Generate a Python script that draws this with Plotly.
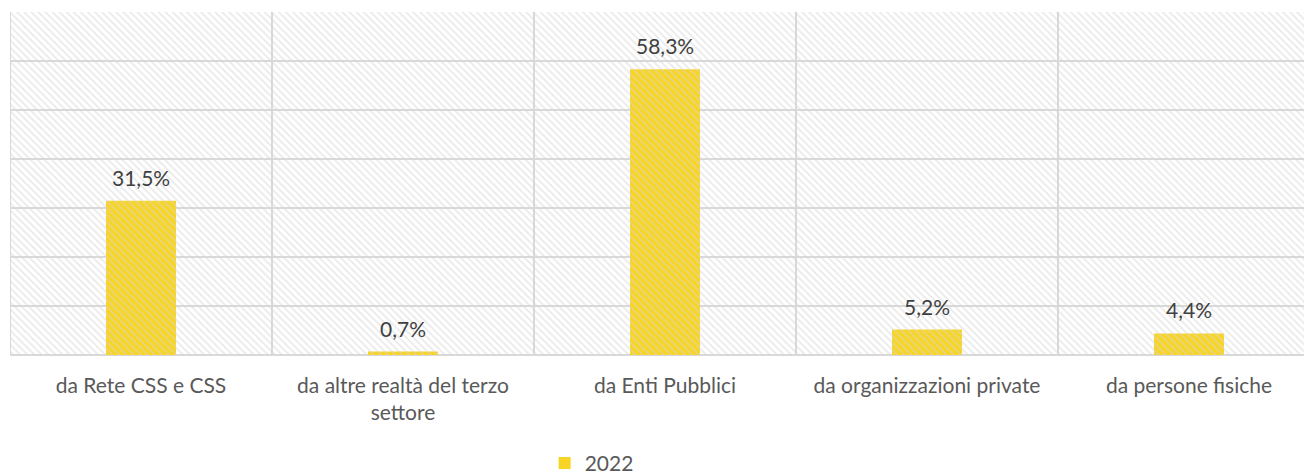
import plotly.graph_objects as go

# categories and values (percent)
categories = ["da Rete CSS e CSS", "da altre realtà del terzo<br>settore", "da Enti Pubblici",
              "da organizzazioni private", "da persone fisiche"]
values_2022 = [31.5, 0.7, 58.3, 5.2, 4.4]
labels_2022 = ["31,5%", "0,7%", "58,3%", "5,2%", "4,4%"]
series_name = "2022"

y_max = 70
font_family = "Lato, 'Open Sans', sans-serif"

fig = go.Figure()

# hatched background of the plot area
fig.add_trace(go.Bar(
    x=[0.5], y=[y_max], width=[1], xaxis="x2",
    marker=dict(color="rgba(0,0,0,0)", line=dict(width=0),
                pattern=dict(shape="\\", fgcolor="#d6d6d6", bgcolor="rgba(0,0,0,0)",
                             size=5, solidity=0.35)),
    showlegend=False, hoverinfo="skip",
))

fig.add_trace(go.Bar(
    x=list(range(len(categories))), y=values_2022, name=series_name,
    width=0.267, marker=dict(color="#F8D423", line=dict(width=0)),
))

# value labels above bars
for i, (v, t) in enumerate(zip(values_2022, labels_2022)):
    fig.add_annotation(x=i, y=v, text=t, showarrow=False, yanchor="bottom", yshift=9,
                       font=dict(size=21, color="#404040", family=font_family))

# vertical separators between categories
for i in range(len(categories)):
    fig.add_shape(type="line", x0=i - 0.5, x1=i - 0.5, y0=0, y1=1, xref="x", yref="paper",
                  line=dict(color="#d9d9d9", width=2), layer="below")

fig.update_layout(
    width=1312, height=476,
    margin=dict(l=2, r=0, t=4, b=127),
    paper_bgcolor="white", plot_bgcolor="white",
    barmode="overlay",
    font=dict(family=font_family, size=21, color="#595959"),
    xaxis=dict(range=[-0.5, 4.5], tickvals=list(range(len(categories))),
               ticktext=categories, showgrid=False, zeroline=False, ticks="",
               ticklabelstandoff=16, tickfont=dict(size=21, color="#595959")),
    xaxis2=dict(range=[0, 1], overlaying="x", visible=False),
    yaxis=dict(range=[0, y_max], dtick=10, showticklabels=False, showgrid=True,
               gridcolor="#d9d9d9", gridwidth=2, zeroline=True, zerolinecolor="#d9d9d9",
               zerolinewidth=2),
    legend=dict(orientation="h", x=0.444, xanchor="center", y=-0.316, yanchor="middle",
                font=dict(size=21, color="#595959")),
    showlegend=True,
)

fig.write_html("out.html")
